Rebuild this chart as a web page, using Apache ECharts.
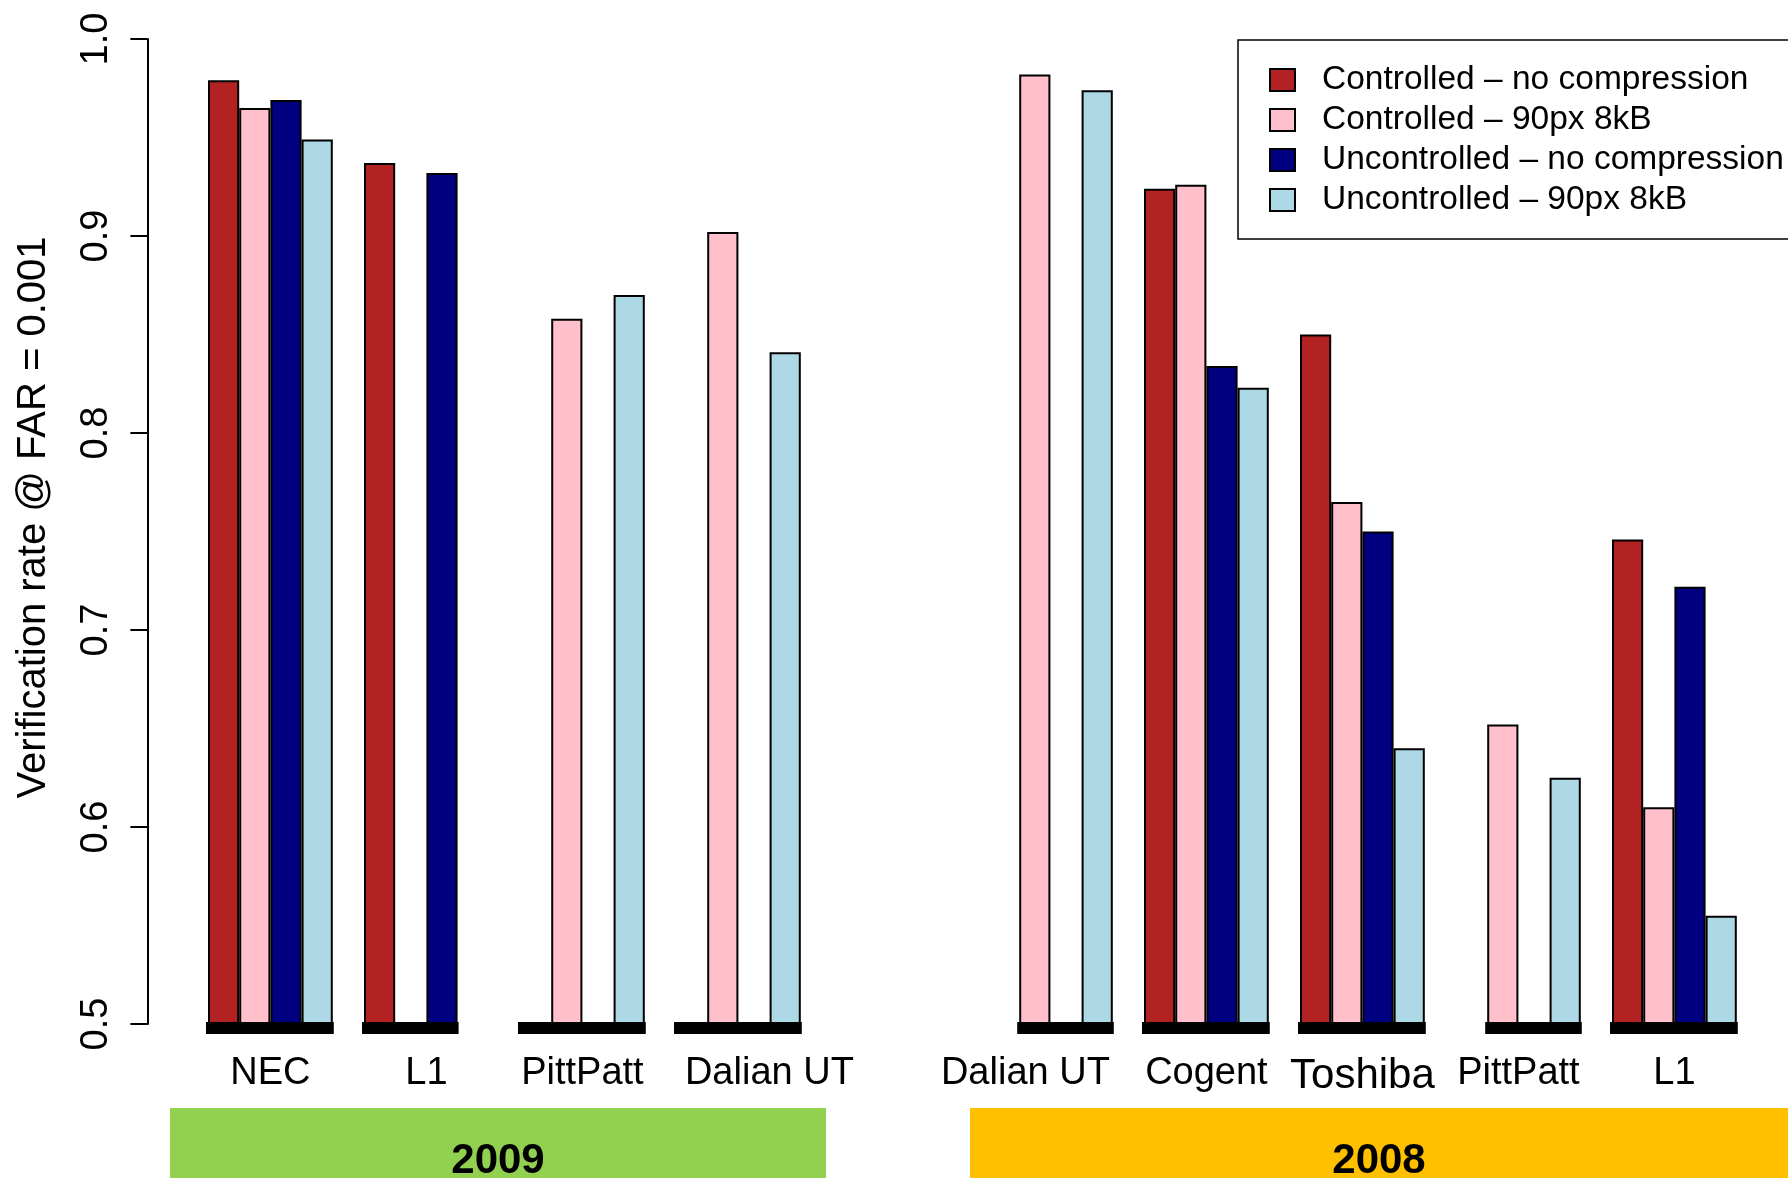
<!DOCTYPE html>
<html>
<head>
<meta charset="utf-8">
<script src="https://cdn.jsdelivr.net/npm/echarts@6/dist/echarts.min.js"></script>
<style>
html,body{margin:0;padding:0;background:#fff;}
#chart{width:1788px;height:1178px;}
</style>
</head>
<body>
<div id="chart"></div>
<script>
// ---- data ----
var categories = ['NEC', 'L1', 'PittPatt', 'Dalian UT', '', 'Dalian UT', 'Cogent', 'Toshiba', 'PittPatt', 'L1'];
var seriesNames = ['Controlled \u2013 no compression', 'Controlled \u2013 90px 8kB', 'Uncontrolled \u2013 no compression', 'Uncontrolled \u2013 90px 8kB'];
var controlledNoComp   = [0.979, 0.937, null,  null,  null, null,  0.924, 0.850, null,  0.746];
var controlled90px     = [0.965, null,  0.858, 0.902, null, 0.982, 0.926, 0.765, 0.652, 0.610];
var uncontrolledNoComp = [0.969, 0.932, null,  null,  null, null,  0.834, 0.750, null,  0.722];
var uncontrolled90px   = [0.949, null,  0.870, 0.841, null, 0.974, 0.823, 0.640, 0.625, 0.555];
// baseline marker extents per category: [category index, first bar, last bar]
var baselineMarks = [[0,0,3],[1,0,2],[2,0,3],[3,0,3],[5,1,3],[6,0,3],[7,0,3],[8,1,3],[9,0,3]];
var yTicks = [0.5, 0.6, 0.7, 0.8, 0.9, 1.0];
var yearBands = ['2009', '2008'];

var colors = ['#B22222', '#FFC0CB', '#000080', '#ADD8E6'];
var seriesData = [controlledNoComp, controlled90px, uncontrolledNoComp, uncontrolled90px];

var chart = echarts.init(document.getElementById('chart'), null, {renderer: 'canvas'});
var FONT = 'Liberation Sans';

var series = seriesData.map(function (d, i) {
  return {
    type: 'bar',
    name: seriesNames[i],
    data: d,
    barGap: '0%',
    barCategoryGap: '20%',
    clip: true,
    itemStyle: {color: colors[i], borderColor: '#000', borderWidth: 2},
    emphasis: {disabled: true},
    z: 2
  };
});

series.push({
  type: 'custom',
  name: 'baseline',
  data: baselineMarks,
  z: 5,
  silent: true,
  renderItem: function (params, api) {
    var c = api.coord([api.value(0), yTicks[0]]);
    var band = api.size([1, 0])[0];
    var bw = band * 0.2;
    var gs = c[0] - 2 * bw;
    var x0 = gs + api.value(1) * bw - 2;
    var x1 = gs + (api.value(2) + 1) * bw + 1;
    return {
      type: 'rect',
      shape: {x: x0, y: c[1] - 2, width: x1 - x0, height: 12},
      style: {fill: '#000'}
    };
  }
});

var labelRich = {
  n: {fontFamily: FONT, fontSize: 38, color: '#000'},
  dl: {fontFamily: FONT, fontSize: 38, color: '#000', padding: [0, 0, 0, 62]},
  dr: {fontFamily: FONT, fontSize: 38, color: '#000', padding: [0, 50, 0, 0]},
  t: {fontFamily: FONT, fontSize: 42, color: '#000'}
};

chart.setOption({
  animation: false,
  backgroundColor: '#fff',
  grid: {left: 192.4, width: 1560, top: 39, height: 985, containLabel: false},
  legend: {
    data: seriesNames,
    orient: 'vertical',
    left: 1238,
    top: 40,
    padding: [20, 120, 19, 31],
    itemGap: 0,
    itemWidth: 25,
    itemHeight: 22,
    borderColor: '#000',
    borderWidth: 1.5,
    icon: 'rect',
    selectedMode: false,
    textStyle: {fontFamily: FONT, fontSize: 33.5, color: '#000', lineHeight: 40, padding: [0, 0, 0, 22]}
  },
  xAxis: {
    type: 'category',
    data: categories,
    axisLine: {show: false},
    axisTick: {show: false},
    axisLabel: {
      interval: 0,
      margin: 31,
      formatter: function (v, i) {
        if (i === 3) return '{dl|' + v + '}';
        if (i === 5) return '{dr|' + v + '}';
        if (i === 7) return '{t|' + v + '}';
        return '{n|' + v + '}';
      },
      rich: labelRich
    }
  },
  yAxis: {
    type: 'value',
    min: 0.5,
    max: 1.0,
    interval: 0.1,
    offset: 45,
    name: 'Verification rate @ FAR = 0.001',
    nameLocation: 'middle',
    nameGap: 93,
    nameTextStyle: {fontFamily: FONT, fontSize: 40, color: '#000', padding: [0, 0, 0, 28]},
    axisLine: {show: true, lineStyle: {color: '#000', width: 2}},
    axisTick: {show: true, length: 17, lineStyle: {color: '#000', width: 2}},
    splitLine: {show: false},
    axisLabel: {
      rotate: 90,
      margin: 32,
      fontFamily: FONT,
      fontSize: 38,
      color: '#000',
      formatter: function (v) { return v.toFixed(1); }
    }
  },
  series: series,
  graphic: [
    {type: 'rect', shape: {x: 170, y: 1108, width: 656, height: 70}, style: {fill: '#92D050'}},
    {type: 'rect', shape: {x: 970, y: 1108, width: 818, height: 70}, style: {fill: '#FFC000'}},
    {type: 'text', x: 498, y: 1161, style: {text: yearBands[0], fill: '#000', font: 'bold 42px "Liberation Sans"', textAlign: 'center', textVerticalAlign: 'middle'}},
    {type: 'text', x: 1379, y: 1161, style: {text: yearBands[1], fill: '#000', font: 'bold 42px "Liberation Sans"', textAlign: 'center', textVerticalAlign: 'middle'}}
  ]
});
</script>
</body>
</html>
